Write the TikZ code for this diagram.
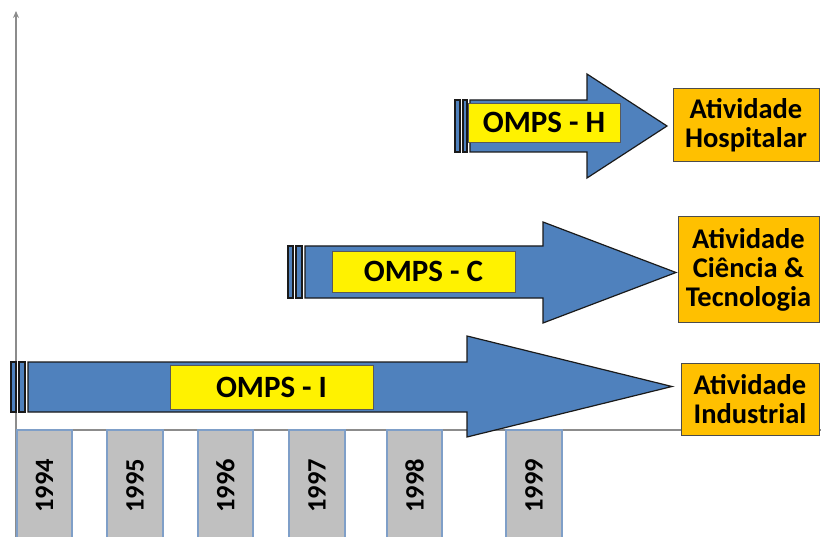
\documentclass[tikz,border=0pt]{standalone}
\usepackage{fontspec}
\setmainfont{Carlito}
\usetikzlibrary{arrows.meta}
\definecolor{ompsblue}{HTML}{4F81BD}
\definecolor{arrowedge}{HTML}{1A1A1A}
\definecolor{actorange}{HTML}{FFC000}
\definecolor{yeargray}{HTML}{C0C0C0}
\definecolor{yearedge}{HTML}{7F9FC8}
\definecolor{axisgray}{HTML}{8C8C8C}
\tikzset{
  arrowbody/.style={fill=ompsblue, draw=arrowedge, line width=1.2pt, line join=miter},
  omps/.style={fill=yellow, draw=gray!70!black, line width=0.6pt, inner sep=0pt,
    font=\bfseries\fontsize{31}{32}\selectfont},
  activity/.style={fill=actorange, draw=gray!60!black, line width=1pt, inner sep=0pt,
    align=center, font=\bfseries\fontsize{28.5}{29}\selectfont},
  yearbox/.style={fill=yeargray, draw=yearedge, line width=1.2pt, inner sep=0pt,
    rotate=90, font=\bfseries\fontsize{26.5}{26}\selectfont},
  axisline/.style={draw=axisgray, line width=1.3pt}
}
\begin{document}
\begin{tikzpicture}[x=1pt,y=-1pt]
\useasboundingbox (0,0) rectangle (821,537);
% axes
\coordinate (origin) at (16,430);
\coordinate (ytop) at (16,11);
\coordinate (ybot) at (16,537);
\coordinate (xend) at (821,430);
\draw[axisline,-{Stealth[length=7pt,width=6pt]}] (ybot) -- (ytop);
\draw[axisline] (origin) -- (xend);
% year boxes
\node[yearbox, minimum width=112pt, minimum height=55pt] (y1994) at (44.5,486) {1994};
\node[yearbox, minimum width=112pt, minimum height=56pt] (y1995) at (135,486) {1995};
\node[yearbox, minimum width=112pt, minimum height=55pt] (y1996) at (225.5,486) {1996};
\node[yearbox, minimum width=112pt, minimum height=56pt] (y1997) at (317,486) {1997};
\node[yearbox, minimum width=112pt, minimum height=55pt] (y1998) at (414.5,486) {1998};
\node[yearbox, minimum width=112pt, minimum height=56pt] (y1999) at (534,486) {1999};
% OMPS - I arrow
\draw[arrowbody] (11,362) rectangle (16,412);
\draw[arrowbody] (19,362) rectangle (25,412);
\draw[arrowbody] (28,362) -- (467,362) -- (467,336) -- (672,386.5) -- (467,437) -- (467,412) -- (28,412) -- cycle;
% OMPS - C arrow
\draw[arrowbody] (288,246) rectangle (293,298);
\draw[arrowbody] (296,246) rectangle (302,298);
\draw[arrowbody] (305,246) -- (543,246) -- (543,222) -- (676,272.5) -- (543,323) -- (543,298) -- (305,298) -- cycle;
% OMPS - H arrow
\draw[arrowbody] (455,100) rectangle (460,152);
\draw[arrowbody] (463,100) rectangle (467,152);
\draw[arrowbody] (470,100) -- (587,100) -- (587,74) -- (667,126) -- (587,178) -- (587,152) -- (470,152) -- cycle;
% labels
\node[omps, minimum width=203pt, minimum height=44pt] (ompsI) at (271.5,387) {OMPS - I};
\node[omps, minimum width=183pt, minimum height=41pt] (ompsC) at (423.5,271.5) {OMPS - C};
\node[omps, minimum width=152pt, minimum height=39pt] (ompsH) at (544,122.5) {OMPS - H};
% activities
\node[activity, minimum width=146pt, minimum height=73pt] (hosp) at (746,125.5) {Atividade\\Hospitalar};
\node[activity, minimum width=141pt, minimum height=105pt] (cet) at (748.5,269.5) {Atividade\\Ciência \&\\Tecnologia};
\node[activity, minimum width=138pt, minimum height=72pt] (ind) at (750,399) {Atividade\\Industrial};
\end{tikzpicture}
\end{document}
